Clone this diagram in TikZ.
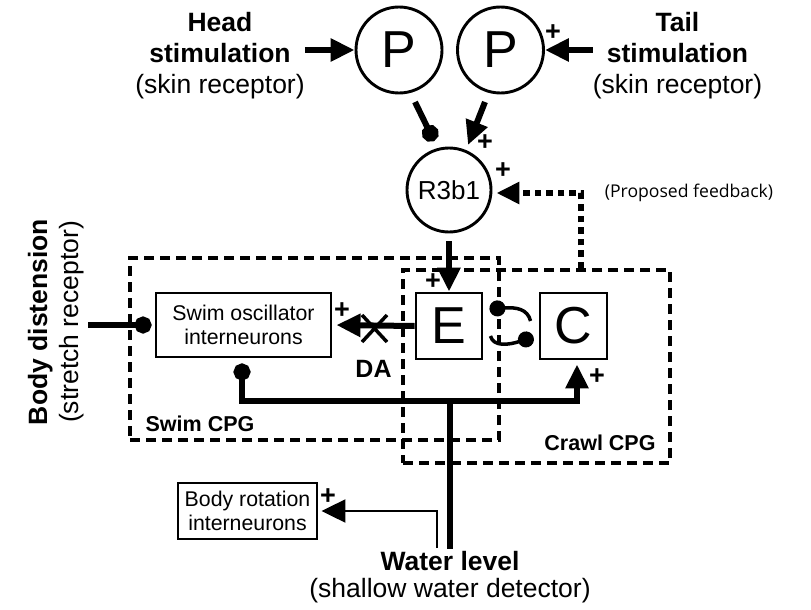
\documentclass[tikz,border=0pt]{standalone}
\usepackage{fontspec}
\setmainfont{Liberation Sans}
\newfontfamily\opensans{Open Sans}
\usetikzlibrary{arrows.meta}
\begin{document}
\begin{tikzpicture}[x=1pt,y=-1pt,
  neuron/.style={circle,draw,line width=2.9pt,inner sep=0pt,minimum size=86pt,font=\fontsize{52}{52}\selectfont},
  bigbox/.style={rectangle,draw,line width=2.9pt,inner sep=0pt,minimum width=66pt,minimum height=66pt,font=\fontsize{52}{52}\selectfont},
  interbox/.style={rectangle,draw,line width=2.9pt,inner sep=0pt,align=center,font=\fontsize{21.3}{23.5}\selectfont},
  cpg/.style={draw,line width=3.2pt,dash pattern=on 10pt off 6pt,inner sep=0pt},
  cpglbl/.style={font=\fontsize{21.5}{21.5}\selectfont\bfseries,inner sep=0pt},
  lbl/.style={font=\fontsize{26.5}{31}\selectfont,align=center,inner sep=0pt},
  plus/.style={font=\fontsize{27}{27}\selectfont\bfseries,inner sep=0pt},
  conn/.style={line width=6pt},
  exc/.style={conn,-{Triangle[length=24pt,width=22pt]}},
  inh/.style={conn,-{Circle[length=17pt,width=17pt]}},
  thinconn/.style={line width=2.2pt,-{Triangle[length=24pt,width=23pt]}},
  mutual/.style={line width=3.5pt,-{Circle[length=16pt,width=16pt]}},
  fbk/.style={line width=6pt,dash pattern=on 6.5pt off 5pt,-{Triangle[length=23pt,width=21pt]}},
]
\useasboundingbox (0,0) rectangle (811,610);

% CPG boxes
\node[cpg,minimum width=369pt,minimum height=182pt] (swimcpg) at (314.5,349) {};
\node[cpg,minimum width=267pt,minimum height=193pt] (crawlcpg) at (536.5,366.5) {};
\node[cpglbl] (swimcpglbl) at (200,424) {Swim CPG};
\node[cpglbl] (crawlcpglbl) at (600,443) {Crawl CPG};

% neurons and boxes
\node[neuron] (P1) at (399,50) {P};
\node[neuron] (P2) at (500.5,50) {P};
\node[neuron,minimum size=84pt,font=\fontsize{26}{26}\selectfont] (R) at (449,190) {R3b1};
\node[bigbox] (E) at (449,326) {E};
\node[bigbox,minimum width=67pt] (C) at (573.5,326) {C};
\node[interbox,minimum width=175pt,minimum height=64pt] (S) at (243.5,325) {Swim oscillator\\interneurons};
\node[interbox,minimum width=139pt,minimum height=56pt] (BR) at (247.5,511) {Body rotation\\interneurons};

% labels
\node[lbl] (headlbl) at (220,55.6) {\textbf{Head}\\\textbf{stimulation}\\(skin receptor)};
\node[lbl] (taillbl) at (677.5,55.6) {\textbf{Tail}\\\textbf{stimulation}\\(skin receptor)};
\node[lbl,rotate=90] (bodylbl) at (55.7,322) {\textbf{Body distension}\\(stretch receptor)};
\node[lbl,font=\fontsize{26.5}{27}\selectfont] (waterlbl) at (450,577.6) {\textbf{Water level}\\(shallow water detector)};
\node[font=\opensans\fontsize{17.6}{17.6}\selectfont,inner sep=0pt] (fblbl) at (689,193) {(Proposed feedback)};
\node[font=\fontsize{25}{25}\selectfont\bfseries,inner sep=0pt] (DA) at (373.5,368.5) {DA};

% plus signs
\node[plus] (pl1) at (553,33) {+};
\node[plus] (pl2) at (485,143) {+};
\node[plus] (pl3) at (503,171) {+};
\node[plus] (pl4) at (433,282) {+};
\node[plus] (pl5) at (342,311) {+};
\node[plus] (pl6) at (597,377) {+};
\node[plus] (pl7) at (328,497) {+};

% connectors
\draw[exc] (headlbl.east |- P1.west) -- (P1.west);
\draw[exc] (taillbl.west |- P2.east) -- (P2.east);
\draw[inh] ([shift={(16,52)}]P1.center) -- ([shift={(-15,-49)}]R.center);
\draw[exc] ([shift={(-15.5,52)}]P2.center) -- ([shift={(19,-45)}]R.center);
\draw[exc,shorten <=8pt] (R.south) -- (E.north);
\draw[fbk] ([xshift=44.5pt]crawlcpg.north) |- ([shift={(4,3)}]R.east);

\coordinate (bdstart) at (88,325);
\draw[inh,shorten >=3pt] (bdstart) -- (S.west);
\draw[exc,shorten >=4pt] (E.west) -- (S.east);
\draw[line width=3.5pt] (362,315) -- (387,342) (362,342) -- (387,315);

\coordinate (junc) at (450,401);
\draw[conn,{Circle[length=17pt,width=17pt]}-{Triangle[length=24pt,width=22pt]}] ([shift={(-1.5,5)}]S.south) |- (junc) -| ([shift={(3.5,4)}]C.south);
\draw[conn,shorten >=3pt] (junc) -- (junc |- waterlbl.north);

\coordinate (thinstart) at (437,548);
\draw[thinconn,shorten >=3pt] (thinstart) |- (BR.east);

\draw[mutual] ([shift={(-8,-5)}]C.west) .. controls +(-3,-12) and +(27,-2) .. ([shift={(6,-17)}]E.east);
\draw[mutual] ([shift={(7,10)}]E.east) .. controls +(3,11) and +(-25,8) .. ([shift={(-5,11)}]C.west);
\end{tikzpicture}
\end{document}
